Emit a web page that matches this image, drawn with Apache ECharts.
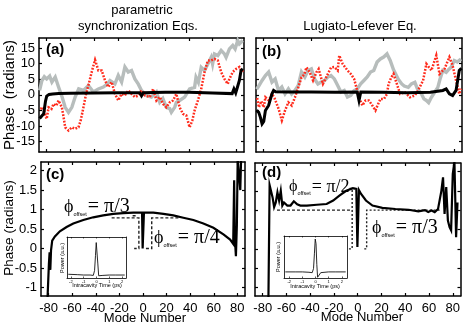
<!DOCTYPE html>
<html>
<head>
<meta charset="utf-8">
<script src="https://cdn.jsdelivr.net/npm/echarts@6/dist/echarts.min.js"></script>
<style>
  html, body { margin: 0; padding: 0; background: #fff; }
  #main { width: 463px; height: 324px; }
</style>
</head>
<body>
<div id="main"></div>
<script>
// ---- data: [mode number, phase] ----
const modeTicks = [-80, -60, -40, -20, 0, 20, 40, 60, 80];
const phaseTicksTop = [-15, -10, -5, 0, 5, 10, 15];
const phaseTicksBottom = [-1, -0.5, 0, 0.5, 1, 1.5, 2];
const insetTicks = [-2, -1, 0, 1, 2];

// (a) parametric synchronization
const grayA = [[-86,1.4],[-84,4.6],[-82,5.8],[-80,5.1],[-77.5,6],[-75.6,4.1],[-72.8,5.7],[-70,2.5],[-67,-0.7],[-64.4,-4],[-61.6,-5.6],[-58.8,-4],[-56,-0.7],[-53,1.9],[-49,1.4],[-44.8,3],[-40.6,0.9],[-36.4,1.9],[-32.2,2.5],[-29,3.4],[-26.6,4.6],[-22.4,3.5],[-19.6,6.2],[-16.8,4.1],[-14,8.9],[-11.2,7.3],[-8.4,7.8],[-5.6,5.1],[-2.8,3.5],[0,1.4],[4.2,-0.2],[8.4,-0.7],[12.6,0.9],[15.4,-2.4],[18,-1.2],[21,-4],[23.8,-4.4],[25.2,-5.6],[28,-4],[29.4,-2.4],[32.2,-1.8],[36.4,-0.7],[40.6,1.9],[44.8,2.4],[46,5.6],[48,4],[50.4,8.8],[53.2,7.8],[56,9.9],[58.8,12],[60,9.9],[61.6,13.1],[64.4,12.6],[65.8,13.1],[67.2,14.2],[70,13.1],[71.4,12],[74.2,14.7],[77,15.8],[79,14.7],[81.2,17.4],[82.6,16.3],[85.4,17.4]];
const redA = [[-85.4,-4.5],[-83,-4],[-81.2,-6.6],[-80,-7.7],[-78.4,-4],[-76,-4.5],[-74.2,-2.9],[-72,-3.5],[-70,-1.8],[-67.2,-4],[-66,-6.6],[-64.4,-10.4],[-61.6,-11.4],[-58.8,-10.4],[-56,-10.9],[-53.2,-10.4],[-51.3,-8.2],[-49,-4],[-46.8,0.3],[-44.5,3.5],[-41.7,7.8],[-39.2,11.2],[-36.4,7.8],[-33.6,7.8],[-30.8,4.6],[-28,2.5],[-25.2,4.1],[-22.4,0.3],[-19.6,-1.8],[-16.8,0.3],[-14,-0.2],[-11.2,1.4],[-8.4,0.3],[-5.6,-0.7],[-2.8,-0.2],[0,1.4],[2.8,-0.2],[7,-0.7],[9.8,1.9],[12.6,-1.8],[15.4,-0.7],[18.2,-2.9],[21,-4],[23.8,-2.4],[26.6,-1.8],[29.4,0.3],[32.2,-4],[35,-6.1],[37.8,-6.6],[40.6,-10.4],[42.9,-8.2],[44.8,-5],[47.6,-1.8],[50.4,1.9],[53.2,7.3],[56,11],[58.8,11],[61.6,11.5],[64.4,11],[67.2,7.3],[70,5.1],[72.8,3.5],[74.2,5.1],[77,7.3],[79.8,8.3],[82.6,8.9],[84.5,7.5],[86,8]];
const blackA = [[-86,-7.6],[-84,-6.7],[-82.5,-6],[-81,-2],[-80,-0.4],[-78,0.1],[-75,0.3],[-70,0.4],[-60,0.5],[-40,0.6],[-20,0.7],[-1.5,0.7],[0,-0.3],[1.5,0.7],[20,0.8],[40,0.8],[60,0.6],[76.5,0.4],[78,1.9],[79.5,0.6],[81,2.5],[82.6,4.6],[84,7.8],[85.5,8.3]];

// (b) Lugiato-Lefever
const grayB = [[-86,1.8],[-84.7,2.5],[-81.4,4.6],[-78.6,6.2],[-75.9,7.3],[-73.1,4.1],[-70.4,5.1],[-67.6,1.4],[-64.8,2.5],[-62.1,0.3],[-59.3,1.9],[-56.6,0.3],[-53.8,1.4],[-51,3],[-48.3,7.3],[-45.5,5.7],[-42.8,7.8],[-40,8.3],[-37.3,5.1],[-34.5,3.5],[-31.7,4.1],[-29,4.6],[-26.2,5.7],[-23.5,6.2],[-20.7,5.1],[-17.9,3],[-15.2,0.9],[-12.4,1.4],[-9.7,-0.7],[-6.9,-0.2],[-4.1,1.4],[-1.4,1.9],[1.4,3.5],[4.1,4.6],[6.9,5.7],[9.7,7.3],[12.4,7.8],[15.2,10.5],[17.9,11.5],[20.7,12.1],[23.5,13.1],[24.8,13.1],[26.2,11],[29,8],[30.4,7.8],[33,5],[35.9,3.5],[38,2.8],[41.4,2.4],[44,3.5],[46.9,4],[49,2],[52.5,0.3],[54.5,-1.3],[56.6,-1.8],[58.5,-2.5],[60.8,-0.8],[63,0.5],[66.2,2.4],[68,5],[70.4,7.8],[73.2,7.2],[75,8],[77.3,8.8],[80,11],[82.5,10.5],[85.6,11.5]];
const redB = [[-85.5,-1],[-84.1,-4],[-82,-2],[-80,-4],[-78.6,-0.8],[-75.8,-1.8],[-73.1,0.3],[-71,-1],[-67.5,-4.5],[-64.8,-8.2],[-62.1,-5],[-59.3,-2.4],[-56.5,-3.4],[-53.8,-0.8],[-51,2.4],[-48.3,5.6],[-46,6.5],[-44.1,8.8],[-41.4,7.2],[-38.6,4.6],[-35.8,7.2],[-33.9,8.3],[-31.2,4.6],[-30.3,3.5],[-27.6,5.6],[-23.4,8.8],[-20.7,8.9],[-17.9,7.8],[-16.6,12.6],[-13.7,9.9],[-9.6,7.8],[-6.9,6.7],[-4.1,5.1],[-2.7,5.6],[0,-0.8],[2.8,-3.4],[5.5,-1.8],[8.3,-1.8],[10.5,-3],[13.8,-5],[16,-3],[18,-1.3],[21,-1.3],[23.5,0.3],[24.8,3.5],[27,5.5],[29,6.7],[31.8,3.5],[34.5,0.3],[38.7,0.8],[42.8,-0.8],[46.9,-0.2],[49.6,1.4],[53.8,4.6],[56.6,9.9],[60.8,7.8],[64.9,12.6],[67.6,6.7],[71.8,8.3],[75.9,12.1],[78.6,9.4],[81.5,4.6],[84.2,0.3],[85.5,2]];
const blackB = [[-86,-5],[-84.2,-5.6],[-82.8,-7.2],[-81.4,-9.3],[-80,-8.5],[-78.6,-5],[-75.9,-3.4],[-74.5,-2.9],[-73.1,0.3],[-71.7,1.4],[-70,1],[-60,0.9],[-40,0.9],[-20,0.8],[-1.5,0.9],[0,-1.8],[1.5,0.9],[20,0.8],[40,0.7],[60,0.8],[70.4,1.4],[73.2,1.9],[75.9,0.3],[78.6,-0.2],[81.5,1.4],[84.2,7.8],[86,8.5]];

// (c) phase with pulse, parametric
const blackC = [[-81,-1.3],[-79.8,-0.4],[-79.2,-0.1],[-78.6,-0.55],[-78,-0.05],[-77,0.2],[-74.7,0.31],[-70.5,0.44],[-64.8,0.55],[-59.1,0.64],[-50.6,0.73],[-42.2,0.8],[-33.7,0.85],[-25.2,0.89],[-16.7,0.91],[-8.2,0.92],[-0.8,0.92],[-0.3,0],[0.3,0],[0.8,0.92],[8.8,0.92],[17.3,0.89],[25.7,0.85],[34.2,0.79],[42.7,0.73],[51.2,0.64],[59.7,0.53],[68.2,0.36],[73.9,0.23],[76.5,0.12],[77.3,1.75],[77.8,0.3],[78.8,-0.2],[79.6,0.6],[80.3,2.3],[81.5,2.3],[82.5,1.5],[83.2,2.3]];
const dashC1 = [[-26.6,0.785],[-3.5,0.785],[-3.5,0],[-7.5,0]];
const dashC2 = [[2.5,0],[7.4,0],[7.4,0.785],[30,0.785]];
const dashC3 = [[-8.8,0.84],[-5,0.84]];

// (d) phase with pulse, Lugiato-Lefever
const blackD = [[-75.2,-1.3],[-74.2,1.65],[-73.1,1.63],[-71.7,1.33],[-70.4,1.08],[-69,1.2],[-67.6,1.46],[-66.2,1.25],[-64.8,1.5],[-63.5,1.12],[-62.1,1.2],[-59.3,1.12],[-56.6,1.12],[-53.8,1.23],[-51,1.15],[-48.3,1.12],[-42.8,1.12],[-34.5,1.14],[-26.2,1.16],[-20.7,1.25],[-15.2,1.38],[-9.7,1.5],[-4.1,1.57],[-1.2,1.55],[-0.3,0.05],[0.3,0.05],[1,1.52],[2.8,1.42],[6.9,1.25],[12.4,1.12],[20.7,1.06],[31.7,1.03],[42.8,1.01],[51,0.97],[56.6,1.0],[59.3,0.95],[62.1,0.99],[64.8,0.95],[67.6,1.03],[70.4,1.5],[71.8,1.85],[73.1,0.9],[74.5,1.6],[75.9,0.73],[77.3,0.56],[78.6,0.48],[80,1.93],[81.4,2.25],[82.8,0.3],[84,1.2]];
const dashD1 = [[-68,1],[-4.7,1]];
const dashD2 = [[-4.7,1.52],[-4.7,0],[-9.1,0]];
const dashD3 = [[5.5,0],[7.5,0],[7.5,1],[70,1]];
const dashD4 = [[-6.9,1.56],[-2.2,1.56]];

// insets: intracavity power vs time
const insetC = [[-2.2,0.1],[-1.5,0.09],[-1,0.08],[-0.5,0.08],[-0.25,0.07],[-0.15,0.2],[-0.08,0.6],[-0.02,0.95],[0.03,0.9],[0.1,0.4],[0.17,0.06],[0.25,0.05],[0.5,0.07],[1,0.08],[1.5,0.08],[2.2,0.08]];
const insetD = [[-2.3,0.16],[-1.5,0.16],[-1,0.16],[-0.5,0.15],[-0.25,0.14],[-0.15,0.25],[-0.08,0.65],[-0.02,1.02],[0.04,0.9],[0.1,0.35],[0.16,0.02],[0.25,0.06],[0.4,0.14],[1,0.16],[1.5,0.16],[2.3,0.16]];

const chart = echarts.init(document.getElementById('main'));
const FONT = "'Liberation Sans', Arial, sans-serif";
const SERIF = "'Liberation Serif', 'DejaVu Serif', serif";

const grids = [
  { left: 39, top: 38, width: 205, height: 114 },   // a
  { left: 256, top: 38, width: 206, height: 114 },  // b
  { left: 41, top: 162, width: 204, height: 134 },  // c
  { left: 255, top: 163, width: 207, height: 133 }, // d
  { left: 67, top: 237, width: 59, height: 41 },    // inset c
  { left: 284, top: 236, width: 63, height: 42 }    // inset d
];

const xAxes = [], yAxes = [];
function addAxes(gi, xr, yr, xt, yt, xLab, yLab, lw, tl, fs) {
  ['bottom', 'top'].forEach(function (pos) {
    xAxes.push({
      type: 'value', gridIndex: gi, position: pos, min: xr[0], max: xr[1],
      axisLine: { onZero: false, lineStyle: { color: '#000', width: lw } },
      axisTick: { inside: true, length: tl, customValues: xt, lineStyle: { color: '#000', width: lw * 0.8 } },
      axisLabel: { show: pos === 'bottom' && xLab, customValues: xt, color: '#000', fontFamily: FONT, fontSize: fs, margin: fs * 0.45 },
      splitLine: { show: false }
    });
  });
  ['left', 'right'].forEach(function (pos) {
    yAxes.push({
      type: 'value', gridIndex: gi, position: pos, min: yr[0], max: yr[1],
      axisLine: { onZero: false, show: true, lineStyle: { color: '#000', width: lw } },
      axisTick: { show: yt.length > 0, inside: true, length: tl, customValues: yt, lineStyle: { color: '#000', width: lw * 0.8 } },
      axisLabel: { show: pos === 'left' && yLab, customValues: yt, color: '#000', fontFamily: FONT, fontSize: fs, margin: fs * 0.3 },
      splitLine: { show: false }
    });
  });
}
addAxes(0, [-86.5, 86.5], [-18.3, 18.2], modeTicks, phaseTicksTop, false, true, 1.5, 3, 13);
addAxes(1, [-86.5, 86.5], [-18.3, 18.2], modeTicks, phaseTicksTop, false, false, 1.5, 3, 13);
addAxes(2, [-86.5, 86.5], [-1.22, 2.22], modeTicks, phaseTicksBottom, true, true, 1.5, 3, 13);
addAxes(3, [-86.5, 86.5], [-1.22, 2.22], modeTicks, phaseTicksBottom, true, false, 1.5, 3, 13);
addAxes(4, [-2.3, 2.3], [0, 1.1], insetTicks, [], true, false, 0.8, 1.5, 4);
addAxes(5, [-2.4, 2.4], [0, 1.1], insetTicks, [], true, false, 0.8, 1.5, 4);

function line(gi, data, color, width, type) {
  return {
    type: 'line', xAxisIndex: gi * 2, yAxisIndex: gi * 2, data: data,
    showSymbol: false, symbol: 'none', silent: true,
    lineStyle: { color: color, width: width, type: type || 'solid', cap: 'butt', join: 'miter' }
  };
}
const GRAY = '#b7bdbc', RED = '#ff2b1c';
const dots = [1.8, 1.5];
const series = [
  line(0, grayA, GRAY, 3.4), line(0, redA, RED, 2.5, dots), line(0, blackA, '#000', 3),
  line(1, grayB, GRAY, 3.4), line(1, redB, RED, 2.5, dots), line(1, blackB, '#000', 3),
  line(2, dashC1, '#222', 1.4, [3, 2]), line(2, dashC2, '#222', 1.4, [3, 2]), line(2, dashC3, '#222', 1.4, [3, 2]),
  line(2, blackC, '#000', 2.2),
  line(3, dashD1, '#222', 1.4, [3, 2]), line(3, dashD2, '#222', 1.4, [2, 2]), line(3, dashD3, '#222', 1.4, [2, 2]), line(3, dashD4, '#222', 1.4, [3, 2]),
  line(3, blackD, '#000', 2.2),
  line(4, insetC, '#111', 0.9), line(5, insetD, '#111', 0.9)
];

function txt(x, y, s, size, opts) {
  return Object.assign({
    type: 'text', x: x, y: y, silent: true,
    style: { text: s, fill: '#000', font: size + 'px ' + FONT, align: 'center', verticalAlign: 'middle' }
  }, opts || {});
}
function phiLabel(x, y, value, size) {
  return {
    type: 'text', x: x, y: y, silent: true,
    style: {
      text: '{p|\u03d5}{s|offset}{e|= ' + value + '}', align: 'left', verticalAlign: 'middle', fill: '#000',
      rich: {
        p: { fontFamily: SERIF, fontSize: size * 0.9 },
        s: { fontFamily: FONT, fontSize: 5.5, verticalAlign: 'bottom', padding: [0, 1, 0, 0] },
        e: { fontFamily: SERIF, fontSize: size }
      }
    }
  };
}

const graphic = [
  txt(142, 10, 'parametric', 13),
  txt(138, 26, 'synchronization Eqs.', 13),
  txt(360, 26, 'Lugiato-Lefever Eq.', 13),
  txt(10, 95, 'Phase  (radians)', 15, { rotation: Math.PI / 2 }),
  txt(9, 228, 'Phase (radians)', 13.5, { rotation: Math.PI / 2 }),
  txt(145, 318, 'Mode Number', 13),
  txt(362, 317, 'Mode Number', 13),
  { type: 'text', x: 46, y: 50, silent: true, style: { text: '(a)', font: 'bold 15px ' + FONT, fill: '#000', align: 'left', verticalAlign: 'middle' } },
  { type: 'text', x: 262, y: 52, silent: true, style: { text: '(b)', font: 'bold 15px ' + FONT, fill: '#000', align: 'left', verticalAlign: 'middle' } },
  { type: 'text', x: 46, y: 175, silent: true, style: { text: '(c)', font: 'bold 15px ' + FONT, fill: '#000', align: 'left', verticalAlign: 'middle' } },
  { type: 'text', x: 262, y: 173, silent: true, style: { text: '(d)', font: 'bold 15px ' + FONT, fill: '#000', align: 'left', verticalAlign: 'middle' } },
  phiLabel(64, 207, '\u03c0/3', 20),
  phiLabel(154, 238, '\u03c0/4', 20),
  phiLabel(289, 187, '\u03c0/2', 18),
  phiLabel(372, 228, '\u03c0/3', 20),
  txt(62, 258, 'Power (a.u.)', 5.5, { rotation: Math.PI / 2 }),
  txt(97, 285, 'Intracavity Time (ps)', 5.5),
  txt(278, 257, 'Power (a.u.)', 5.5, { rotation: Math.PI / 2 }),
  txt(315, 286, 'Intracavity Time (ps)', 5.5)
];

chart.setOption({
  animation: false,
  backgroundColor: '#fff',
  grid: grids,
  xAxis: xAxes,
  yAxis: yAxes,
  series: series,
  graphic: graphic
});
</script>
</body>
</html>
